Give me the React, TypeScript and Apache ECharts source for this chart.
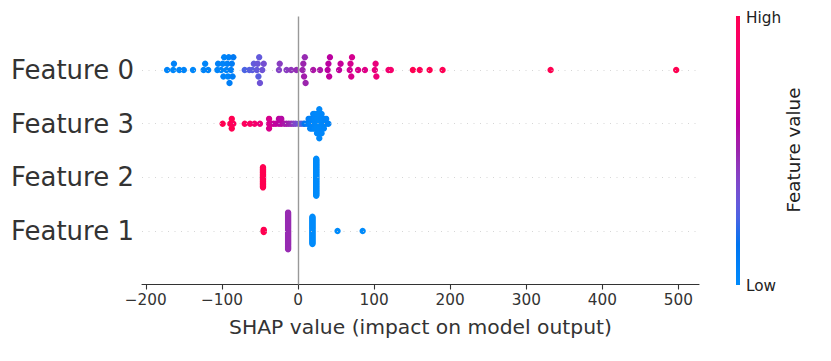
import React, { useEffect, useRef } from 'react';
import * as echarts from 'echarts';

// Row names, bottom row first (y = 0 .. 3)
const featureNames = ['Feature 1', 'Feature 2', 'Feature 3', 'Feature 0'];
const rowTicks = [0, 1, 2, 3];
const xTicks = [-200, -100, 0, 100, 200, 300, 400, 500];

// Each entry: [SHAP value, feature value (0 = low, 1 = high), number of samples]
const feature0: number[][] = [
  [-172, 0.05, 1], [-164, 0.03, 1], [-163, 0.06, 1], [-156, 0.04, 1], [-150, 0.05, 1],
  [-138, 0.03, 1], [-124, 0.05, 1], [-122, 0.04, 1], [-118, 0.06, 1],
  [-106, 0.05, 1], [-105, 0.07, 1],
  [-101, 0.04, 1], [-99, 0.05, 1], [-98, 0.06, 1], [-97, 0.05, 1],
  [-94, 0.05, 1], [-93, 0.07, 1], [-92, 0.04, 1], [-91, 0.06, 1], [-90, 0.08, 1],
  [-88, 0.08, 1], [-87, 0.1, 1], [-86, 0.09, 1], [-85, 0.12, 1],
  [-70, 0.25, 1], [-64, 0.27, 1], [-60, 0.28, 1], [-58, 0.3, 1],
  [-54, 0.3, 1], [-53, 0.32, 1], [-52, 0.28, 1], [-51, 0.3, 1], [-50, 0.33, 1],
  [-47, 0.33, 1], [-45, 0.35, 1],
  [-25, 0.4, 1], [-24, 0.42, 1], [-15, 0.42, 1], [-9, 0.45, 1], [-2, 0.47, 1],
  [6, 0.5, 1], [7, 0.5, 1], [8, 0.52, 1], [9, 0.48, 1], [10, 0.5, 1],
  [20, 0.55, 1], [29, 0.55, 1],
  [39, 0.6, 1], [40, 0.6, 1], [41, 0.62, 1], [42, 0.6, 1],
  [54, 0.62, 1], [56, 0.64, 1],
  [68, 0.68, 1], [69, 0.7, 1], [70, 0.72, 1], [71, 0.7, 1],
  [79, 0.72, 1], [88, 0.75, 1],
  [101, 0.8, 1], [102, 0.8, 1], [103, 0.82, 1],
  [119, 0.85, 1], [122, 0.88, 1],
  [151, 1.0, 1], [160, 0.97, 1], [173, 1.0, 1], [190, 0.98, 1], [332, 1.0, 1], [497, 1.0, 1],
];

const feature3: number[][] = [
  [-99, 1.0, 1], [-89, 0.97, 1], [-87, 1.0, 3], [-85, 0.95, 1],
  [-70, 0.95, 1], [-63, 0.92, 1], [-57, 0.88, 1], [-50, 0.82, 1],
  [-38, 0.72, 3], [-35, 0.7, 1],
  [-32, 0.65, 1], [-29, 0.62, 1], [-25, 0.6, 2], [-22, 0.58, 2],
  [-18, 0.55, 1], [-15, 0.52, 1], [-12, 0.5, 1], [-9, 0.48, 1],
  [-6, 0.42, 1], [-3, 0.38, 1], [1, 0.33, 1], [4, 0.28, 1], [7, 0.22, 1], [9, 0.15, 1],
  [12, 0.1, 1], [14, 0.08, 2], [16, 0.06, 3], [18, 0.05, 3], [20, 0.04, 4],
  [22, 0.03, 4], [25, 0.02, 5], [28, 0.02, 7], [31, 0.03, 5], [34, 0.04, 3],
  [37, 0.05, 2], [40, 0.06, 1],
];

const feature2: number[][] = [
  [-46, 1.0, 25],
  [24, 0.0, 45],
];

const feature1: number[][] = [
  [-45, 1.0, 3],
  [-13, 0.48, 37],
  [19, 0.0, 28],
  [52, 0.0, 1],
  [85, 0.0, 1],
];

const rowsData = [feature1, feature2, feature3, feature0];

const FONT = 'DejaVu Sans';

// SHAP-style beeswarm layout (nbins = 100, row height 0.4)
function beeswarm(groups: number[][], row: number) {
  const pts: { v: number; c: number }[] = [];
  groups.forEach(([v, c, n]) => {
    for (let i = 0; i < n; i++) pts.push({ v, c });
  });
  const vs = pts.map((p) => p.v);
  const mn = Math.min(...vs);
  const mx = Math.max(...vs);
  const quant = pts.map((p) => Math.round((100 * (p.v - mn)) / (mx - mn + 1e-8)));
  const inds = pts.map((_, i) => i).sort((a, b) => quant[a] - quant[b] || a - b);
  const ys = new Array(pts.length).fill(0);
  let layer = 0;
  let last = -1;
  for (const i of inds) {
    if (quant[i] !== last) layer = 0;
    ys[i] = Math.ceil(layer / 2) * ((layer % 2) * 2 - 1);
    layer++;
    last = quant[i];
  }
  const maxY = Math.max(...ys);
  const scale = (0.9 * 0.4) / (maxY + 1);
  return pts.map((p, i) => [p.v, row + ys[i] * scale, p.c]);
}

// SHAP red_blue colormap (LCH interpolation)
function shapColor(t: number) {
  const L = t < 0.5 ? 54 + (40 - 54) * (t / 0.5) : 40 + (54 - 40) * ((t - 0.5) / 0.5);
  const C = 70 + 20 * t;
  const H = 4.6588 + (0.35470565 + 2 * Math.PI - 4.6588) * t;
  const a = C * Math.cos(H);
  const b = C * Math.sin(H);
  const fy = (L + 16) / 116;
  const fx = fy + a / 500;
  const fz = fy - b / 200;
  const d = 6 / 29;
  const finv = (f: number) => (f > d ? f * f * f : 3 * d * d * (f - 4 / 29));
  const X = 0.95047 * finv(fx);
  const Y = finv(fy);
  const Z = 1.08883 * finv(fz);
  const lin = [
    3.2406 * X - 1.5372 * Y - 0.4986 * Z,
    -0.9689 * X + 1.8758 * Y + 0.0415 * Z,
    0.0557 * X - 0.204 * Y + 1.057 * Z,
  ];
  const hex = lin
    .map((u) => {
      let s = u <= 0.0031308 ? 12.92 * u : 1.055 * Math.pow(Math.max(u, 0), 1 / 2.4) - 0.055;
      s = Math.min(1, Math.max(0, s));
      return Math.round(s * 255).toString(16).padStart(2, '0');
    })
    .join('');
  return '#' + hex;
}

const N_STOPS = 21;
const cmap = Array.from({ length: N_STOPS }, (_, i) => shapColor(i / (N_STOPS - 1)));

export default function App() {
  const ref = useRef<HTMLDivElement>(null);

  useEffect(() => {
    if (!ref.current) return;
    const chart = echarts.init(ref.current, undefined, { renderer: 'svg' });

    const points: number[][] = [];
    rowsData.forEach((g, r) => points.push(...beeswarm(g, r)));

    const gradient = new echarts.graphic.LinearGradient(
      0, 1, 0, 0,
      cmap.map((c, i) => ({ offset: i / (N_STOPS - 1), color: c }))
    );

    chart.setOption({
      animation: false,
      grid: { left: 142, right: 132, top: 16.5, bottom: 76.5, containLabel: false },
      xAxis: {
        type: 'value',
        min: -205,
        max: 527,
        axisLine: { show: true, onZero: false, lineStyle: { color: '#333333', width: 1.1 } },
        axisTick: { show: true, customValues: xTicks, length: 5, lineStyle: { color: '#333333', width: 1.1 } },
        axisLabel: {
          customValues: xTicks,
          fontSize: 15.3,
          color: '#333333',
          fontFamily: FONT,
          margin: 8,
          formatter: (v: number) => (v < 0 ? '\u2212' + Math.abs(v) : String(v)),
        },
        splitLine: { show: false },
        name: 'SHAP value (impact on model output)',
        nameLocation: 'middle',
        nameGap: 32,
        nameTextStyle: { fontSize: 20.3, color: '#333333', fontFamily: FONT },
      },
      yAxis: {
        type: 'value',
        min: -1,
        max: 4,
        axisLine: { show: false },
        axisTick: { show: false },
        splitLine: { show: false },
        axisLabel: {
          customValues: rowTicks,
          formatter: (v: number) => featureNames[v] ?? '',
          fontSize: 26,
          color: '#333333',
          fontFamily: FONT,
          margin: 8,
        },
      },
      visualMap: {
        type: 'continuous',
        show: false,
        dimension: 2,
        min: 0,
        max: 1,
        seriesIndex: 1,
        inRange: { color: cmap },
      },
      series: [
        {
          type: 'scatter',
          data: [],
          silent: true,
          z: 1,
          markLine: {
            silent: true,
            symbol: ['none', 'none'],
            label: { show: false },
            animation: false,
            data: [
              ...rowTicks.map((r) => ({
                yAxis: r,
                lineStyle: { color: '#cccccc', width: 0.8, type: [1, 5.5] },
              })),
              { xAxis: 0, lineStyle: { color: '#999999', width: 1.4, type: 'solid' } },
            ],
          },
        },
        {
          type: 'scatter',
          data: points,
          symbolSize: 6.4,
          silent: true,
          z: 2,
          itemStyle: { opacity: 1 },
        },
      ],
      graphic: [
        {
          type: 'rect',
          silent: true,
          shape: { x: 736, y: 16, width: 4, height: 269 },
          style: { fill: gradient },
        },
        {
          type: 'text',
          x: 746,
          y: 18,
          style: { text: 'High', fontSize: 15.3, fill: '#222222', fontFamily: FONT, align: 'left', verticalAlign: 'middle' },
        },
        {
          type: 'text',
          x: 746,
          y: 286,
          style: { text: 'Low', fontSize: 15.3, fill: '#222222', fontFamily: FONT, align: 'left', verticalAlign: 'middle' },
        },
        {
          type: 'text',
          x: 793,
          y: 150,
          rotation: Math.PI / 2,
          style: { text: 'Feature value', fontSize: 18.3, fill: '#222222', fontFamily: FONT, align: 'center', verticalAlign: 'middle' },
        },
      ],
    });

    return () => chart.dispose();
  }, []);

  return (
    <div
      ref={ref}
      style={{ position: 'fixed', left: 0, top: 0, width: 831, height: 361, background: '#ffffff' }}
    />
  );
}
